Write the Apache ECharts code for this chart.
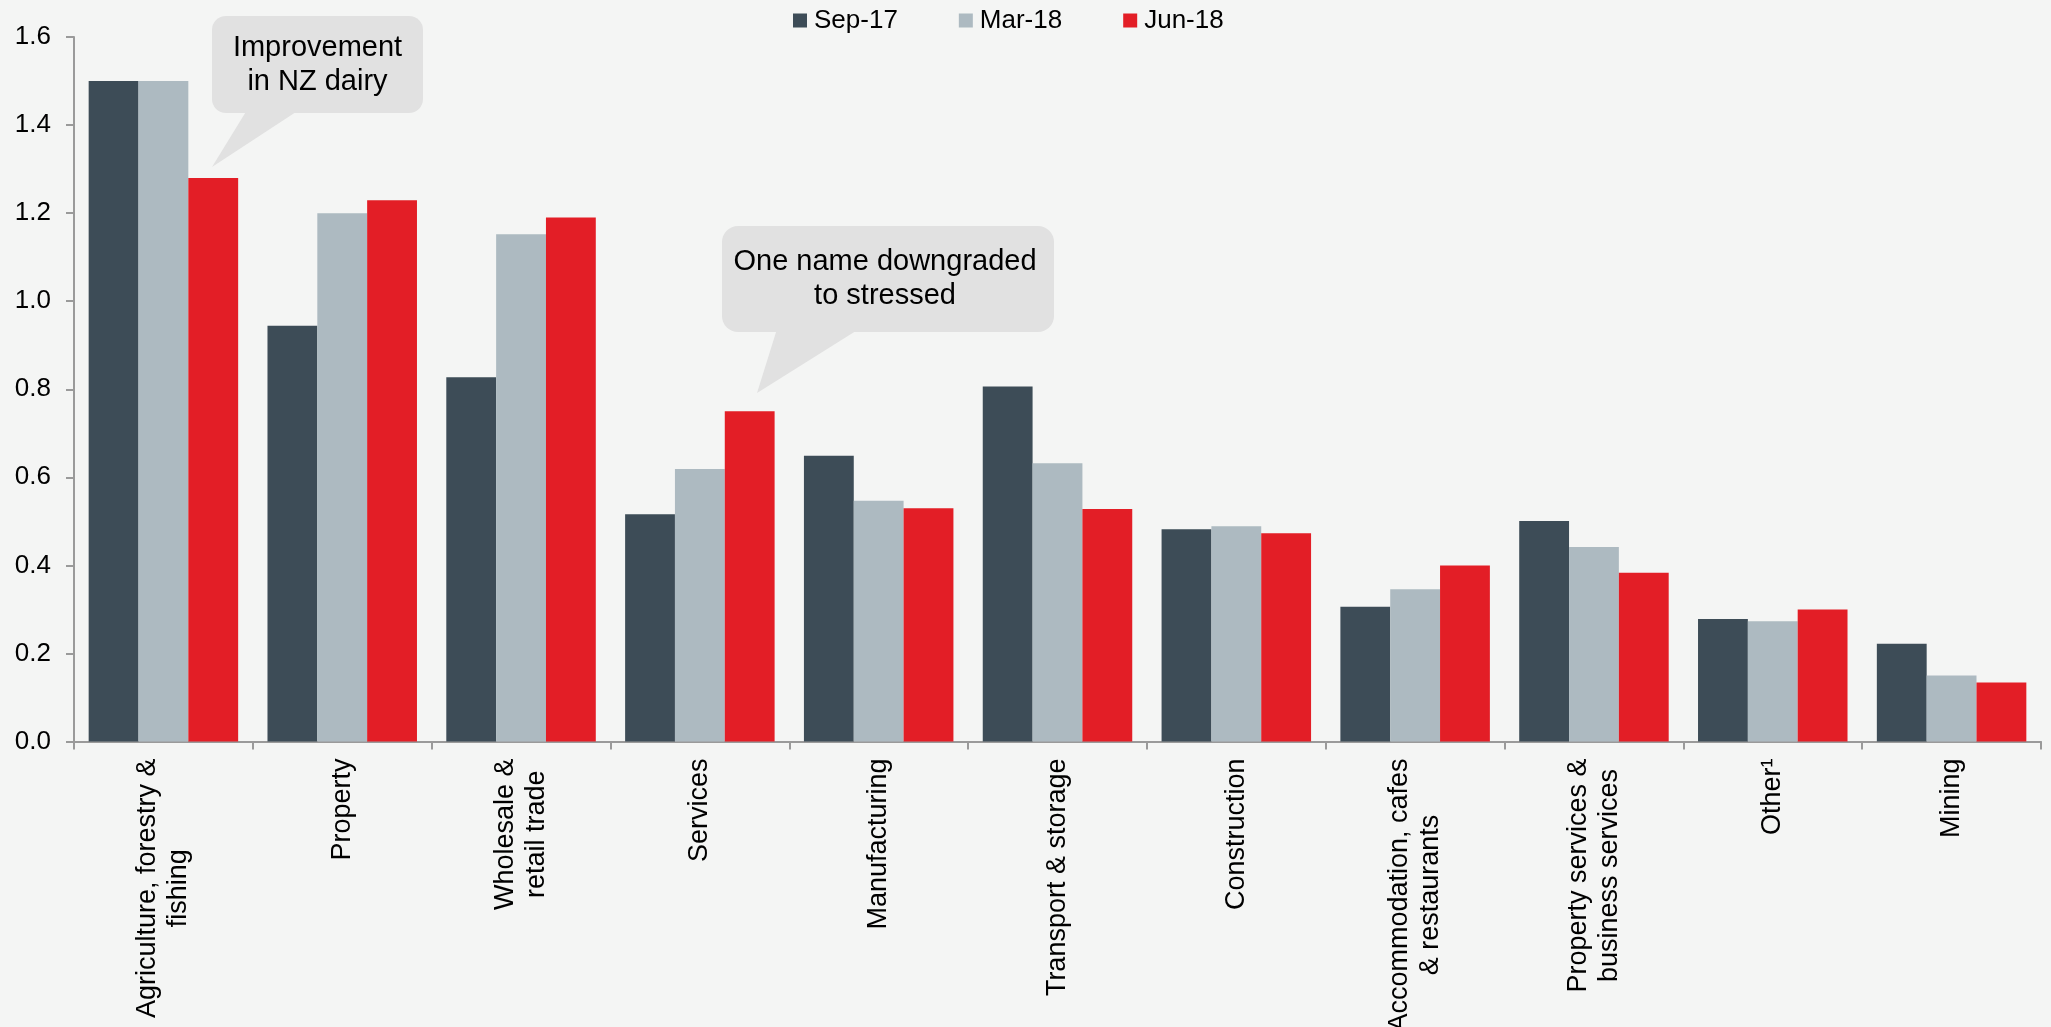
<!DOCTYPE html>
<html>
<head>
<meta charset="utf-8">
<script src="https://cdn.jsdelivr.net/npm/echarts@6/dist/echarts.min.js"></script>
<style>
html,body{margin:0;padding:0;background:#f4f5f4;}
#chart{width:2051px;height:1027px;}
</style>
</head>
<body>
<div id="chart"></div>
<script>
const categories = [
  'Agriculture, forestry &\nfishing',
  'Property',
  'Wholesale &\nretail trade',
  'Services',
  'Manufacturing',
  'Transport & storage',
  'Construction',
  'Accommodation, cafes\n& restaurants',
  'Property services &\nbusiness services',
  'Other\u00b9',
  'Mining'
];
const seriesNames = ['Sep-17', 'Mar-18', 'Jun-18'];
const sep17 = [1.50, 0.944, 0.827, 0.516, 0.649, 0.806, 0.482, 0.306, 0.501, 0.278, 0.222];
const mar18 = [1.50, 1.200, 1.152, 0.619, 0.547, 0.632, 0.489, 0.346, 0.442, 0.273, 0.150];
const jun18 = [1.28, 1.229, 1.190, 0.750, 0.530, 0.528, 0.473, 0.400, 0.383, 0.300, 0.134];
const yTicks = { min: 0, max: 1.6, interval: 0.2 };
const callouts = [
  { text: 'Improvement\nin NZ dairy' },
  { text: 'One name downgraded\nto stressed' }
];

const colors = ['#3d4c57', '#adbac1', '#e31e26'];
const FONT = '"Liberation Sans", Arial, Helvetica, sans-serif';

const chart = echarts.init(document.getElementById('chart'), null, { renderer: 'canvas' });

const bubbleFill = '#e1e1e1';

const option = {
  backgroundColor: '#f4f5f4',
  animation: false,
  color: colors,
  textStyle: { fontFamily: FONT },
  legend: {
    data: seriesNames,
    left: 788,
    top: 2,
    itemWidth: 14,
    itemHeight: 14,
    itemGap: 61,
    icon: 'rect',
    textStyle: { fontSize: 26, color: '#000', fontFamily: FONT, lineHeight: 27, padding: [0, 0, 0, 2] }
  },
  grid: { left: 74, right: 10, top: 37, bottom: 285.5, containLabel: false, outerBoundsMode: 'none' },
  xAxis: {
    type: 'category',
    data: categories,
    axisLine: { lineStyle: { color: '#9a9a9a', width: 2 } },
    axisTick: { show: true, alignWithLabel: false, length: 8, lineStyle: { color: '#9a9a9a', width: 2 } },
    splitLine: { show: false },
    axisLabel: {
      interval: 0,
      rotate: 90,
      margin: 17,
      color: '#000',
      fontSize: 27,
      lineHeight: 31,
      fontFamily: FONT,
      formatter: function (v) {
        return v.split('\n').map(function (l) { return '{c|' + l + '}'; }).join('\n');
      },
      rich: { c: { align: 'center', fontSize: 27, lineHeight: 31, color: '#000', fontFamily: FONT } }
    }
  },
  yAxis: {
    type: 'value',
    min: yTicks.min,
    max: yTicks.max,
    interval: yTicks.interval,
    axisLine: { show: true, lineStyle: { color: '#9a9a9a', width: 2 } },
    axisTick: { show: true, length: 8, lineStyle: { color: '#9a9a9a', width: 2 } },
    splitLine: { show: false },
    axisLabel: {
      margin: 23,
      color: '#000',
      fontSize: 26,
      fontFamily: FONT,
      formatter: function (v) { return v.toFixed(1); }
    }
  },
  series: [
    { name: seriesNames[0], type: 'bar', data: sep17, barGap: 0, barCategoryGap: '16.4%' },
    { name: seriesNames[1], type: 'bar', data: mar18, barGap: 0, barCategoryGap: '16.4%' },
    { name: seriesNames[2], type: 'bar', data: jun18, barGap: 0, barCategoryGap: '16.4%' }
  ],
  graphic: [
    {
      type: 'group',
      children: [
        { type: 'polygon', shape: { points: [[247, 110], [299, 110], [212, 167]] }, style: { fill: bubbleFill } },
        { type: 'rect', shape: { x: 212, y: 16, width: 211, height: 97, r: 14 }, style: { fill: bubbleFill } },
        { type: 'text', x: 317.5, y: 65, style: { text: callouts[0].text, fontSize: 29, lineHeight: 34, fontFamily: FONT, fill: '#000', align: 'center', verticalAlign: 'middle' } }
      ]
    },
    {
      type: 'group',
      children: [
        { type: 'polygon', shape: { points: [[777, 329], [859, 329], [757, 393]] }, style: { fill: bubbleFill } },
        { type: 'rect', shape: { x: 722, y: 226, width: 332, height: 106, r: 16 }, style: { fill: bubbleFill } },
        { type: 'text', x: 885, y: 279, style: { text: callouts[1].text, fontSize: 29, lineHeight: 34, fontFamily: FONT, fill: '#000', align: 'center', verticalAlign: 'middle' } }
      ]
    }
  ]
};

chart.setOption(option);
</script>
</body>
</html>
